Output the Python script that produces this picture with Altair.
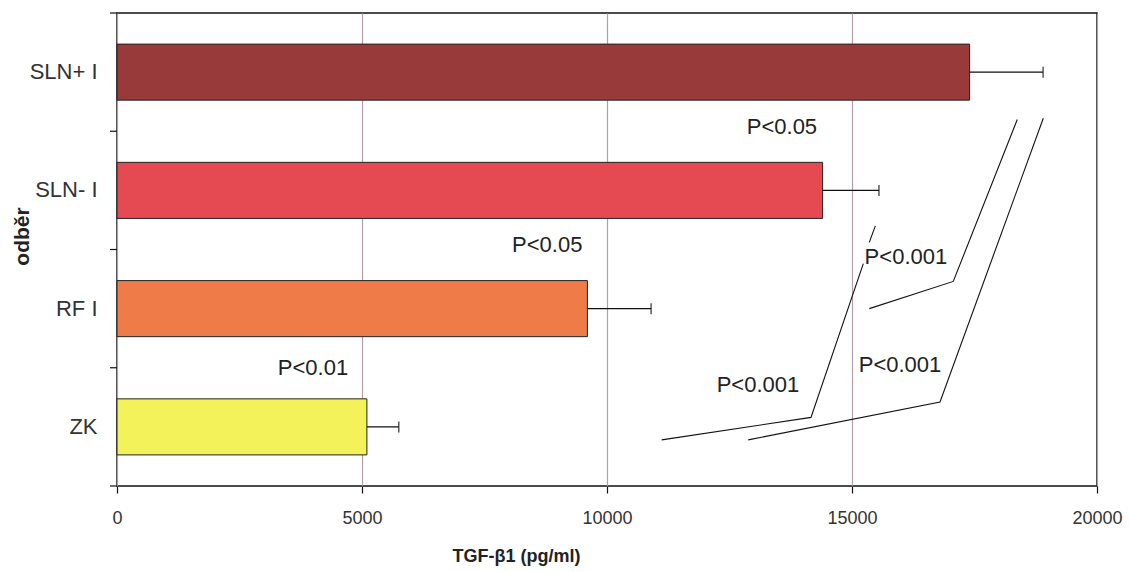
import altair as alt
import pandas as pd

# ---- data ----
categories = ["SLN+ I", "SLN- I", "RF I", "ZK"]
means = [17400, 14400, 9600, 5100]
errors = [1500, 1150, 1300, 650]
colors = ["#983a3a", "#e54a52", "#ef7c48", "#f4f25a"]

p_labels = ["P<0.05", "P<0.05", "P<0.01", "P<0.001", "P<0.001", "P<0.001"]
p_x = [13570, 8780, 4000, 16100, 15980, 13080]
p_row = [0.96, 1.96, 3.0, 2.06, 2.98, 3.15]

line_ids = ["A1", "A1", "A1", "A2", "A2", "B", "B", "B", "C", "C", "C"]
line_order = [0, 1, 2, 0, 1, 0, 1, 2, 0, 1, 2]
line_x = [11116, 14163, 15231, 15353, 15476, 12884, 16796, 18904, 15353, 17067, 18373]
line_row = [3.61, 3.42, 2.12, 1.94, 1.80, 3.61, 3.29, 0.89, 2.50, 2.27, 0.90]

tick_rows = [0, 1, 2, 3, 4]
x_ticks = [0, 5000, 10000, 15000, 20000]

bars_df = pd.DataFrame({
    "odber": categories,
    "value": means,
    "upper": [m + e for m, e in zip(means, errors)],
})
p_df = pd.DataFrame({"label": p_labels, "x": p_x, "row": p_row})
lines_df = pd.DataFrame({"id": line_ids, "ord": line_order, "x": line_x, "row": line_row})
ticks_df = pd.DataFrame({"row": tick_rows})

SANS = "Liberation Sans, Arial, sans-serif"

x_axis = alt.Axis(
    values=x_ticks, format="d",
    title="TGF-β1 (pg/ml)",
    titleFont=SANS, titleFontSize=18, titleFontWeight="bold", titleColor="#222",
    titleX=399, titleY=70, titleAlign="center", titleBaseline="middle",
    labelFont=SANS, labelFontSize=18, labelColor="#333", labelPadding=16,
    labelFlush=False,
    tickColor="#111", tickSize=7, tickWidth=1.2,
    domain=False,
    grid=True, gridColor="#b49caa", gridWidth=1.2,
)
x_scale = alt.Scale(domain=[0, 20000], nice=False)
X = alt.X("value:Q", scale=x_scale, axis=x_axis)

y_band = alt.Y(
    "odber:N", sort=categories,
    scale=alt.Scale(paddingInner=0.526, paddingOuter=0.263),
    axis=alt.Axis(
        title="odběr", titleFont=SANS, titleFontSize=21, titleFontWeight="bold",
        titleColor="#222", titleAngle=270, titleX=-95, titleY=223,
        titleAlign="center", titleBaseline="middle",
        labelFont=SANS, labelFontSize=22, labelColor="#333", labelPadding=20,
        ticks=False, domain=False, grid=False,
    ),
)

bars = alt.Chart(bars_df).mark_bar(stroke="#222", strokeWidth=1).encode(
    x=X,
    y=y_band,
    color=alt.Color("odber:N", scale=alt.Scale(domain=categories, range=colors), legend=None),
)
err = alt.Chart(bars_df).mark_rule(color="#111", strokeWidth=1.2).encode(
    x=X, x2="upper:Q", y=y_band,
)
caps = alt.Chart(bars_df).mark_tick(color="#111", thickness=1.5, size=11).encode(
    x=alt.X("upper:Q", scale=x_scale, axis=x_axis), y=y_band,
)

row_scale = alt.Scale(domain=[0, 4], reverse=True, nice=False, zero=False)

ptext = alt.Chart(p_df).mark_text(
    font=SANS, fontSize=22, color="#222", align="center", baseline="middle"
).encode(
    x=alt.X("x:Q", scale=x_scale, axis=x_axis),
    y=alt.Y("row:Q", scale=row_scale, axis=None),
    text="label:N",
)
lines = alt.Chart(lines_df).mark_line(color="#111", strokeWidth=1.1).encode(
    x=alt.X("x:Q", scale=x_scale, axis=x_axis),
    y=alt.Y("row:Q", scale=row_scale, axis=None),
    detail="id:N",
    order="ord:Q",
)
yticks = alt.Chart(ticks_df).mark_rule(color="#111", strokeWidth=1.2).encode(
    x=alt.value(-7), x2=alt.value(0),
    y=alt.Y("row:Q", scale=row_scale, axis=None),
)

chart = alt.layer(
    alt.layer(bars, err, caps),
    alt.layer(ptext, lines, yticks),
).resolve_scale(y="independent").properties(
    width=980, height=473,
    autosize=alt.AutoSizeParams(type="none"),
    padding={"left": 117, "top": 13, "right": 33, "bottom": 86},
    background="white",
).configure_view(stroke="#111", strokeWidth=1.5)

chart.save("out.html", embed_options={"renderer": "svg", "actions": False})
